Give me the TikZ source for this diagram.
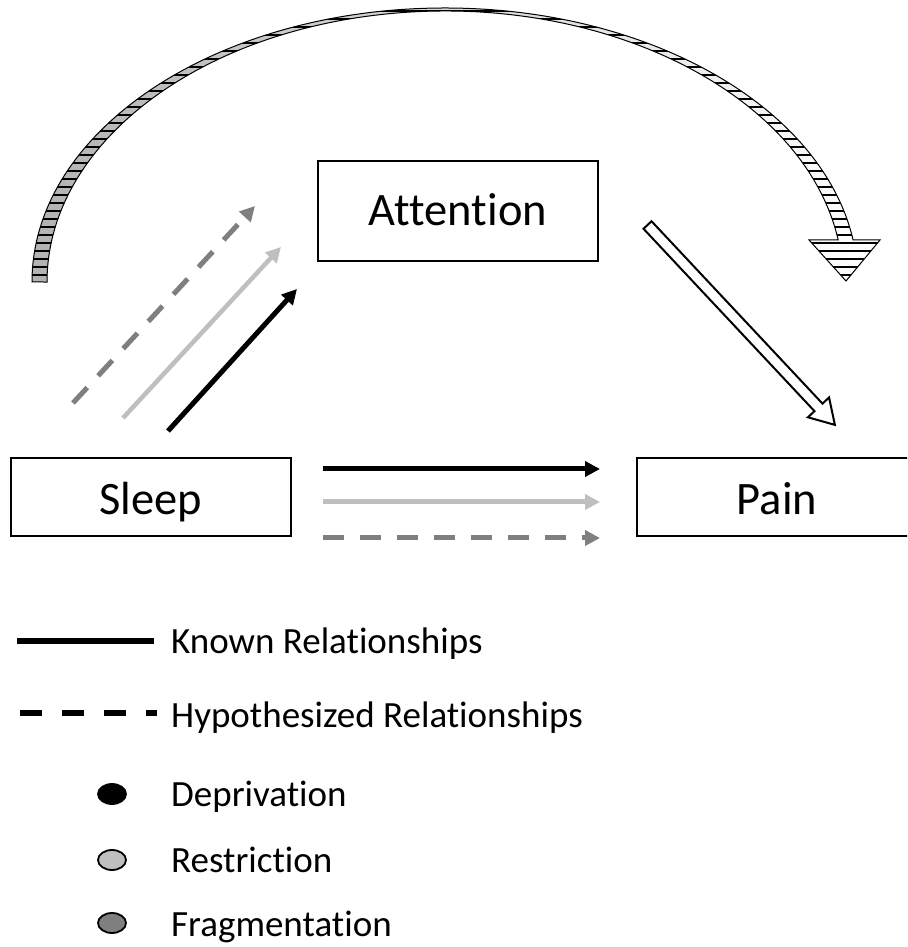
\documentclass[tikz,border=0pt]{standalone}
\usepackage{fontspec}
\setmainfont{Carlito}[Ligatures=NoCommon]
\usetikzlibrary{arrows.meta,patterns.meta,shapes.geometric}
\definecolor{lgray}{HTML}{BFBFBF}
\definecolor{mgray}{HTML}{7F7F7F}
\begin{document}
\begin{tikzpicture}[x=1pt,y=1pt,
  box/.style={draw,line width=2.5pt,minimum width=280pt,inner sep=0pt,
    font=\fontsize{46.5}{50}\selectfont,text height=30pt,text depth=0pt},
  legtext/.style={anchor=base west,inner sep=0pt,font=\fontsize{37}{40}\selectfont},
  rel/.style={line width=5pt,-{Triangle[length=15pt,width=15pt]}},
  known/.style={rel,draw=black},
  restr/.style={rel,draw=lgray},
  frag/.style={rel,draw=mgray,dash pattern=on 21pt off 16pt},
  legdot/.style={draw=black,line width=1.8pt,ellipse,minimum width=28pt,minimum height=20pt,inner sep=0pt}]
\clip (0,0) rectangle (907,947);
\fill[white] (0,0) rectangle (907,947);

% curved striped arrow
\draw[line width=1pt,left color=black!30,right color=white,
  postaction={pattern={Lines[angle=0,distance=8pt,line width=2.5pt]},pattern color=black}]
  (32,665) arc[start angle=180,end angle=8.82,x radius=413,y radius=274]
  -- (880,707) -- (846,666) -- (809,707) -- (838.2,707)
  arc[start angle=8.92,end angle=180,x radius=398,y radius=271] -- cycle;

% boxes
\node[box,minimum height=100pt] (att) at (458,736) {Attention};
\node[box,minimum height=78pt,text height=36pt] (sleep) at (151,450) {Sleep};
\node[box,minimum height=78pt,text height=36pt] (pain) at (777,450) {Pain};

% horizontal arrows Sleep -> Pain
\coordinate (h1s) at (323,478); \coordinate (h1e) at (600,478);
\coordinate (h2s) at (323,445); \coordinate (h2e) at (600,445);
\coordinate (h3s) at (323,409); \coordinate (h3e) at (600,409);
\draw[known] (h1s) -- (h1e);
\draw[restr] (h2s) -- (h2e);
\draw[frag] (h3s) -- (h3e);

% diagonal arrows Sleep -> Attention
\coordinate (d1s) at (168,516); \coordinate (d1e) at (297,658);
\coordinate (d2s) at (123,529); \coordinate (d2e) at (281,700);
\coordinate (d3s) at (73,544);  \coordinate (d3e) at (255,741);
\draw[known] (d1s) -- (d1e);
\draw[restr,line width=4.5pt] (d2s) -- (d2e);
\draw[frag] (d3s) -- (d3e);

% open block arrow Attention -> Pain
\coordinate (oas) at (647.5,722);
\begin{scope}[shift={(oas)},rotate=-46.85]
\draw[line width=2pt,fill=white,line join=miter]
  (0,5.5) -- (250,5.5) -- (250,14.5) -- (274,0) -- (250,-14.5) -- (250,-5.5) -- (0,-5.5) -- cycle;
\end{scope}

% legend
\coordinate (k1) at (17,306); \coordinate (k2) at (154,306);
\draw[line width=6pt] (k1) -- (k2);
\node[legtext] (kt) at (171,293) {Known Relationships};
\coordinate (hy1) at (20,234); \coordinate (hy2) at (157,234);
\draw[line width=6pt,dash pattern=on 22pt off 20pt] (hy1) -- (hy2);
\node[legtext] (ht) at (171,219) {Hypothesized Relationships};
\node[legdot,fill=black] (dp) at (112,153) {};
\node[legtext] (dpt) at (171,140) {Deprivation};
\node[legdot,fill=lgray] (rs) at (112,87) {};
\node[legtext] (rst) at (171,74) {Restriction};
\node[legdot,fill=mgray] (fr) at (112,24) {};
\node[legtext] (frt) at (171,10) {Fragmentation};
\end{tikzpicture}
\end{document}
